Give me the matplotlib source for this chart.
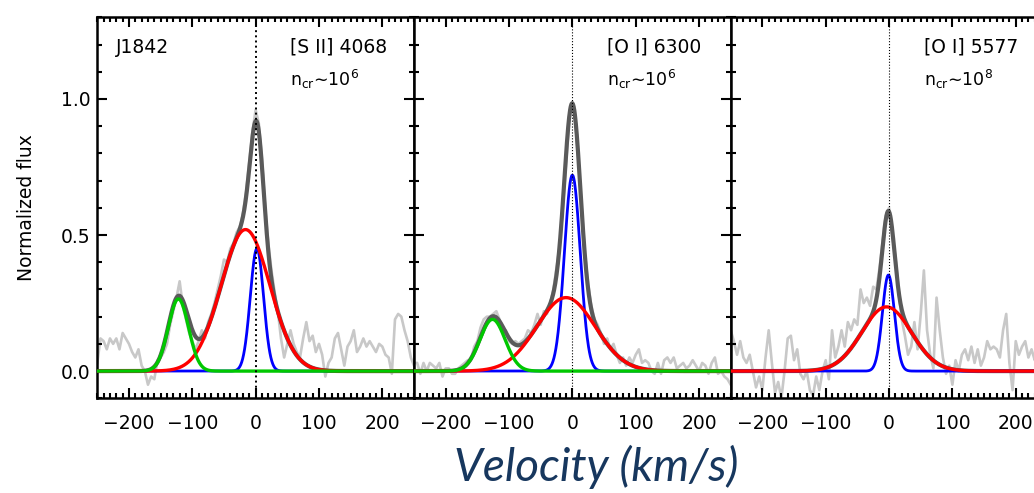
import numpy as np
import matplotlib
matplotlib.use('Agg')
import matplotlib.pyplot as plt
from matplotlib.ticker import MultipleLocator

# velocity grid of the observed spectra (km/s)
velocity = np.arange(-250, 251, 5)

sii_4068_flux = [
    0.03, 0.12, 0.11, 0.08, 0.12, 0.10, 0.12, 0.08, 0.14, 0.12,
    0.10, 0.07, 0.05, 0.08, 0.02, 0.00, -0.05, -0.02, -0.03, 0.04,
    0.05, 0.07, 0.10, 0.17, 0.22, 0.27, 0.33, 0.24, 0.19, 0.14,
    0.11, 0.08, 0.11, 0.15, 0.12, 0.18, 0.21, 0.25, 0.30, 0.35,
    0.41, 0.40, 0.45, 0.47, 0.51, 0.53, 0.58, 0.66, 0.77, 0.88,
    0.96, 0.91, 0.78, 0.60, 0.47, 0.37, 0.29, 0.22, 0.12, 0.05,
    0.10, 0.15, 0.10, 0.07, 0.05, 0.12, 0.18, 0.11, 0.13, 0.07,
    0.10, 0.06, -0.02, 0.03, 0.05, 0.12, 0.14, 0.08, 0.02, 0.09,
    0.11, 0.15, 0.07, 0.09, 0.12, 0.09, 0.11, 0.09, 0.07, 0.10,
    0.09, 0.06, 0.05, -0.01, 0.19, 0.21, 0.20, 0.15, 0.11, 0.05,
    0.02]
oi_6300_flux = [
    0.03, 0.03, -0.01, 0.03, 0.00, 0.03, 0.02, 0.01, 0.03, -0.02,
    0.01, 0.01, -0.01, -0.01, 0.01, 0.02, 0.03, 0.04, 0.04, 0.09,
    0.11, 0.16, 0.19, 0.20, 0.20, 0.21, 0.22, 0.19, 0.14, 0.15,
    0.11, 0.10, 0.11, 0.10, 0.11, 0.12, 0.15, 0.14, 0.17, 0.21,
    0.17, 0.22, 0.21, 0.25, 0.30, 0.38, 0.46, 0.60, 0.76, 0.92,
    0.99, 0.91, 0.76, 0.59, 0.43, 0.32, 0.24, 0.19, 0.17, 0.14,
    0.10, 0.12, 0.08, 0.10, 0.06, 0.03, 0.05, 0.02, 0.05, 0.03,
    0.06, 0.08, 0.03, 0.04, 0.03, 0.00, -0.01, 0.03, -0.01, 0.04,
    0.05, 0.03, 0.05, 0.01, 0.02, 0.03, 0.01, 0.02, 0.04, 0.02,
    0.00, 0.03, 0.02, -0.01, 0.03, 0.05, -0.01, 0.00, -0.02, -0.03,
    -0.05]
oi_5577_flux = [
    0.15, 0.11, 0.06, 0.11, 0.05, 0.03, 0.06, 0.00, -0.06, -0.02,
    -0.07, 0.05, 0.15, 0.03, -0.08, -0.04, -0.10, 0.00, 0.12, 0.13,
    0.04, 0.08, -0.01, -0.03, 0.00, -0.07, -0.09, -0.02, -0.07, 0.00,
    0.04, -0.03, 0.15, 0.05, 0.09, 0.15, 0.09, 0.18, 0.15, 0.19,
    0.17, 0.30, 0.25, 0.27, 0.24, 0.31, 0.30, 0.38, 0.48, 0.57,
    0.60, 0.50, 0.42, 0.30, 0.19, 0.13, 0.06, 0.09, 0.18, 0.08,
    0.21, 0.37, 0.15, 0.06, 0.01, 0.27, 0.15, 0.05, -0.01, 0.02,
    -0.05, 0.04, 0.00, 0.06, 0.08, 0.04, 0.09, 0.03, 0.08, 0.02,
    0.05, 0.11, 0.08, 0.09, 0.08, 0.05, 0.15, 0.21, 0.03, -0.07,
    0.11, 0.06, 0.09, 0.11, 0.05, 0.08, 0.04, 0.10, 0.02, 0.06,
    0.03]

# gaussian components: (amplitude, centre km/s, sigma km/s)
sii_4068_blue = (0.45, 2, 10.5)
sii_4068_red = (0.52, -16, 38.5)
sii_4068_green = (0.265, -122, 16)
oi_6300_blue = (0.72, 0, 12.5)
oi_6300_red = (0.27, -10, 46)
oi_6300_green = (0.19, -126, 20)
oi_5577_blue = (0.353, -1, 9.5)
oi_5577_red = (0.236, -4, 39)

line_names = ['[S II] 4068', '[O I] 6300', '[O I] 5577']
ncr_labels = ['n$_{\\rm cr}$\u223c10$^{6}$', 'n$_{\\rm cr}$\u223c10$^{6}$', 'n$_{\\rm cr}$\u223c10$^{8}$']
object_name = 'J1842'


def gaussian(v, comp):
    amp, cen, sig = comp
    return amp * np.exp(-(v - cen) ** 2 / (2.0 * sig ** 2))


panels = [
    (sii_4068_flux, [sii_4068_blue, sii_4068_red, sii_4068_green]),
    (oi_6300_flux, [oi_6300_blue, oi_6300_red, oi_6300_green]),
    (oi_5577_flux, [oi_5577_blue, oi_5577_red]),
]
comp_colors = ['#0000ff', '#ff0000', '#00c800']
comp_widths = [2.0, 2.4, 2.4]

plt.rcParams['font.family'] = 'DejaVu Sans'
fig = plt.figure(figsize=(10.34, 4.93), dpi=100)

W, H = 1034.0, 493.0
left, right_edge, top, bottom = 97.3, 414.0, 17.3, 398.3
pw = right_edge - left
v_fine = np.linspace(-250, 250, 1001)

for i, (flux, comps) in enumerate(panels):
    ax = fig.add_axes([(left + i * pw) / W, 1 - bottom / H, pw / W, (bottom - top) / H])
    ax.plot(velocity, flux, color='#c8c8c8', lw=1.9, zorder=1)

    total = np.zeros_like(v_fine)
    for c in comps:
        total += gaussian(v_fine, c)
    ax.plot(v_fine, total, color='#5a5a5a', lw=3.0, zorder=2)
    for c, col, lw in zip(comps, comp_colors, comp_widths):
        ax.plot(v_fine, gaussian(v_fine, c), color=col, lw=lw, zorder=3)

    ax.axvline(0, color='black', ls=':', lw=1.4 if i == 0 else 0.8, zorder=4)

    ax.set_xlim(-250, 250)
    ax.set_ylim(-0.1, 1.3)
    ax.xaxis.set_major_locator(MultipleLocator(100))
    ax.xaxis.set_minor_locator(MultipleLocator(10))
    ax.yaxis.set_major_locator(MultipleLocator(0.5))
    ax.yaxis.set_minor_locator(MultipleLocator(0.1))
    ax.tick_params(which='both', direction='in', top=True, right=True, width=1.5, labelsize=13.5)
    ax.tick_params(which='major', length=7)
    ax.tick_params(which='minor', length=3.5)
    ax.tick_params(axis='x', pad=11)
    ax.tick_params(axis='y', pad=5)
    for s in ax.spines.values():
        s.set_linewidth(1.8)

    if i == 0:
        ax.yaxis.set_major_formatter(plt.FuncFormatter(lambda y, p: '%.1f' % y))
        ax.set_ylabel('Normalized flux', fontsize=13.5)
        ax.yaxis.set_label_coords(-0.195, 0.5)
        ax.text(-220, 1.19, object_name, fontsize=13.5, va='center')
    else:
        ax.set_yticklabels([])

    ax.text(55, 1.19, line_names[i], fontsize=13.5, va='center')
    ax.text(55, 1.07, ncr_labels[i], fontsize=12.5, va='center')

fig.text(0.577, 0.052, 'Velocity (km/s)', family='Lato', style='italic', fontsize=33,
         color='#17375e', ha='center', va='center')

plt.savefig('out.png', dpi=100)
